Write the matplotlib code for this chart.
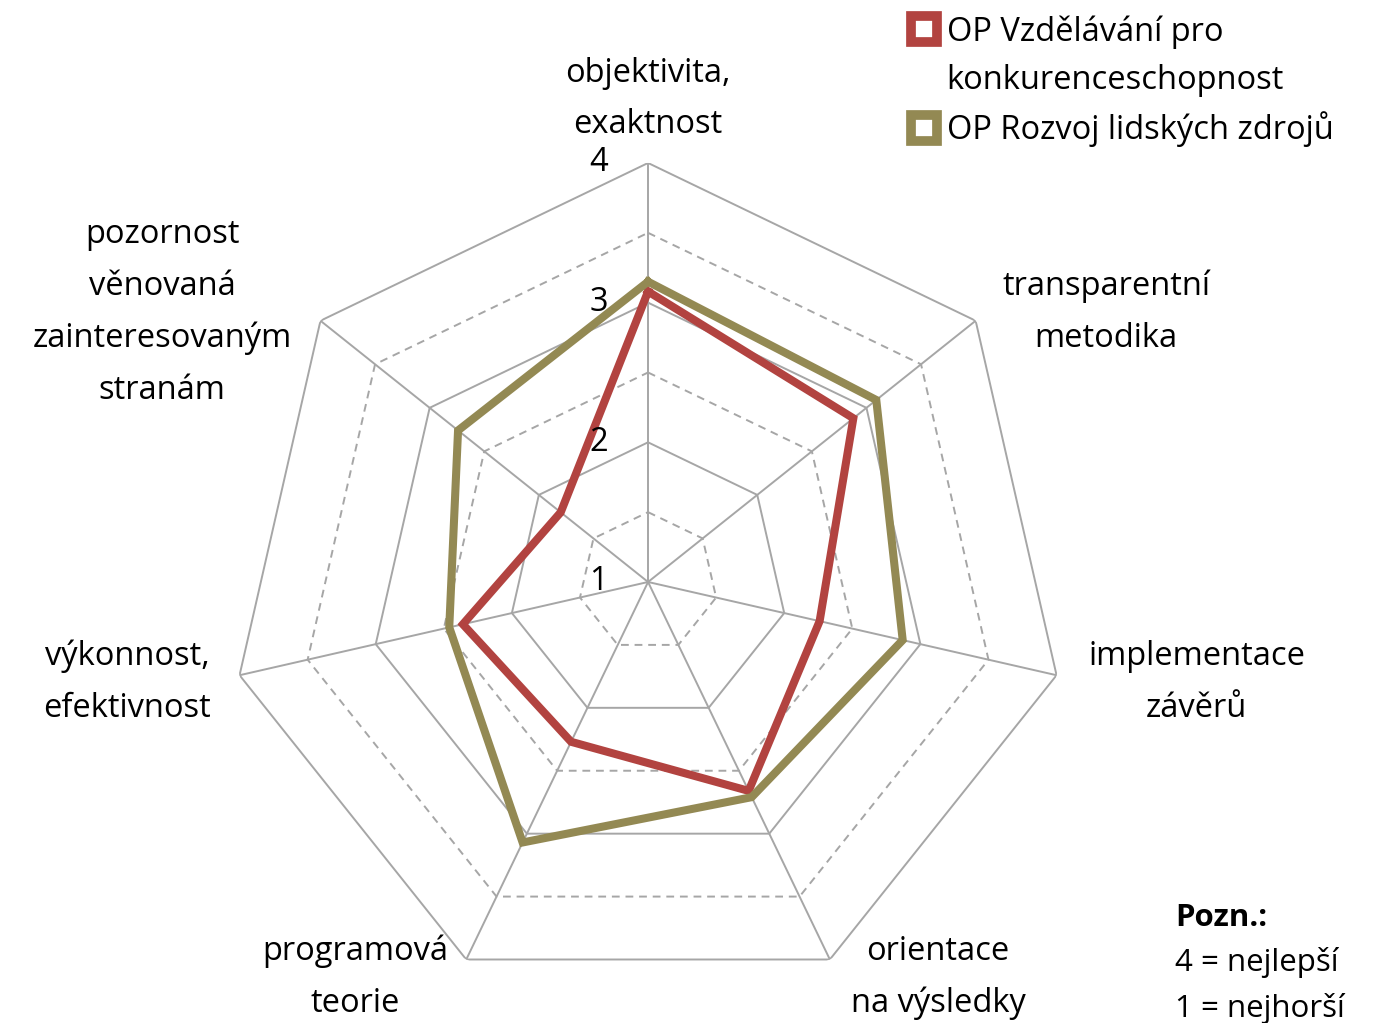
import numpy as np
import matplotlib
matplotlib.use("Agg")
from matplotlib import pyplot as plt
from matplotlib.lines import Line2D

plt.rcParams['font.family'] = ['Open Sans', 'DejaVu Sans']

categories = ["objektivita,\nexaktnost",
              "transparentní\nmetodika",
              "implementace\nzávěrů",
              "orientace\nna výsledky",
              "programová\nteorie",
              "výkonnost,\nefektivnost",
              "pozornost\nvěnovaná\nzainteresovaným\nstranám"]
op_vk = [3.08, 2.88, 2.26, 2.66, 2.27, 2.36, 1.80]
op_rlz = [3.15, 3.09, 2.87, 2.71, 3.07, 2.46, 2.74]
legend_lines = ["OP Vzdělávání pro", "konkurenceschopnost", "OP Rozvoj lidských zdrojů"]
tick_values = [1, 2, 3, 4]
note_lines = ["Pozn.:", "4 = nejlepší", "1 = nejhorší"]

red = '#b24340'
olive = '#938953'
grid_color = '#a6a6a6'
fs = 23.5

n = len(categories)
angles = np.arange(n) * 2 * np.pi / n
closed = np.append(angles, angles[0])

fig = plt.figure(figsize=(13.84, 10.23), dpi=100)
ax = fig.add_axes([0.1655, 0.0215, 0.6055, 0.8192], projection='polar')
ax.set_theta_offset(np.pi / 2)
ax.set_theta_direction(-1)
ax.set_ylim(1, 4)
ax.grid(False)
ax.set_xticks([])
ax.set_yticks([])
ax.spines['polar'].set_visible(False)

# polygon grid, solid on whole numbers, dashed on halves
for level in [1.5, 2, 2.5, 3, 3.5, 4]:
    ls = '-' if level == int(level) else (0, (4, 3))
    ax.plot(closed, [level] * (n + 1), color=grid_color, lw=1.4, ls=ls, zorder=1)
for a in angles:
    ax.plot([a, a], [1, 4], color=grid_color, lw=1.4, zorder=1)

ax.plot(closed, op_vk + op_vk[:1], color=red, lw=5.8, zorder=3, solid_joinstyle='miter')
ax.plot(closed, op_rlz + op_rlz[:1], color=olive, lw=5.8, zorder=4, solid_joinstyle='miter')

for v in tick_values:
    ax.annotate(str(v), xy=(0, v), xytext=(-29, 0), textcoords='offset points',
                ha='right', va='center', fontsize=fs, annotation_clip=False)

# offsets of the category labels from the outer vertex (points)
offsets = [(0, 46), (94, 6), (101, -5), (78, -13), (-80, -13), (-81, -5), (-114, 6)]
for a, lab, off in zip(angles, categories, offsets):
    ax.annotate(lab, xy=(a, 4), xytext=off, textcoords='offset points',
                ha='center', va='center', fontsize=fs, linespacing=1.75,
                annotation_clip=False)

mk = dict(ls='none', marker='s', markersize=19, markerfacecolor='white', markeredgewidth=7)
handles = [Line2D([], [], markeredgecolor=red, **mk),
           Line2D([], [], ls='none'),
           Line2D([], [], markeredgecolor=olive, **mk)]
fig.legend(handles, legend_lines, loc='upper left', bbox_to_anchor=(0.658, 0.985),
           frameon=False, fontsize=fs, handlelength=0.8, handletextpad=0.3,
           labelspacing=0.45, borderpad=0, borderaxespad=0)

fig.text(0.849, 1 - 918 / 1023, note_lines[0], fontsize=fs - 1, fontweight='bold', va='center')
fig.text(0.849, 1 - 963 / 1023, note_lines[1], fontsize=fs - 1, va='center')
fig.text(0.849, 1 - 1008 / 1023, note_lines[2], fontsize=fs - 1, va='center')

fig.savefig('out.png', dpi=100)
